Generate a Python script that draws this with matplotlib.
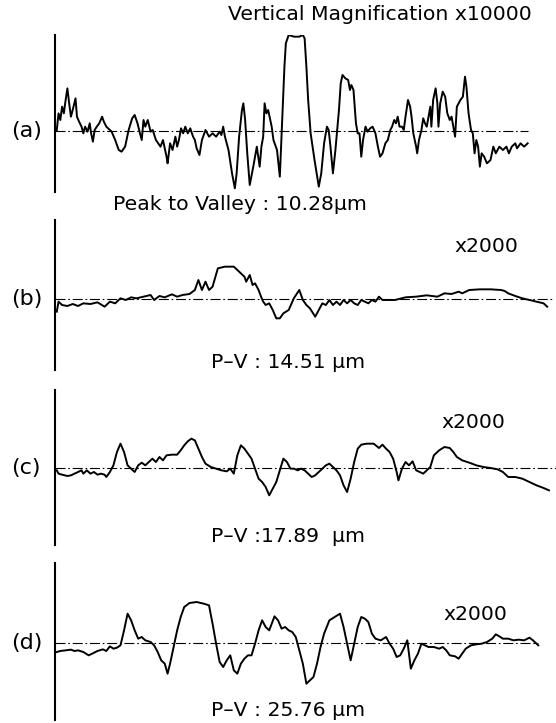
import matplotlib
matplotlib.use("Agg")
import matplotlib.pyplot as plt

plt.rcParams['font.family'] = ['DejaVu Sans']

# profile position (arbitrary units) and height above the mean line
a_x = [5, 10, 15, 20, 25, 30, 35, 40, 45, 50, 58, 62, 68, 75, 80, 85, 92, 98, 102, 107,
       112, 118, 125, 133, 138, 145, 155, 160, 170, 180, 188, 198, 208, 218, 225, 233, 240, 245, 250, 255,
       262, 270, 276, 285, 298, 305, 315, 318, 325, 332, 340, 345, 350, 356, 362, 368, 375, 382, 390, 395,
       400, 408, 415, 425, 435, 445, 455, 465, 470, 475, 480, 490, 500, 508, 513, 520, 528, 532, 537, 543,
       550, 560, 570, 578, 583, 588, 592, 597, 602, 608, 612, 617, 627, 635, 640, 648, 652, 660, 675, 690,
       700, 705, 710, 715, 722, 733, 745, 752, 760, 768, 773, 778, 785, 792, 798, 802, 807, 812, 820, 828,
       833, 837, 843, 850, 855, 860, 865, 870, 877, 883, 890, 897, 905, 912, 918, 925, 933, 940, 947, 952,
       958, 963, 968, 973, 980, 985, 990, 997, 1003, 1007, 1012, 1020, 1023, 1028, 1035, 1040, 1045, 1050, 1055, 1060,
       1063, 1068, 1075, 1080, 1083, 1088, 1095, 1102, 1108, 1115, 1120, 1125, 1130, 1135, 1145, 1152, 1158, 1162, 1168, 1175,
       1180, 1185, 1190, 1195, 1200, 1205, 1212, 1220, 1230, 1238, 1245, 1255, 1265, 1275, 1282, 1290, 1300, 1305, 1315, 1325,
       1335]
a_y = [3, 53, 33, 73, 53, 93, 128, 83, 43, 63, 98, 43, 28, 13, -7, 13, -2, 23, -7, -32,
       3, 13, 23, 43, 28, 13, 3, -2, -27, -57, -62, -47, 3, 38, 48, 23, -7, -27, 33, 13,
       33, -2, 3, -27, -47, -27, -77, -97, -37, -57, -17, -47, -27, 8, -7, 13, -7, 8, -17, -27,
       -52, -72, -27, 3, -17, -7, -17, -2, -12, 13, -17, -57, -127, -172, -127, -17, 63, 83, 33, -67,
       -162, -107, -47, -107, -47, -17, 83, 53, 63, 33, 13, -27, -57, -137, -7, 193, 263, 288, 283, 283,
       288, 278, 193, 93, -7, -87, -167, -127, -37, 13, 3, -47, -127, -57, 13, 63, 143, 168, 158, 153,
       123, 138, 123, 23, -7, -7, -77, -27, 13, -2, 8, 13, -7, -47, -77, -67, -37, -27, 3, 13,
       33, 23, 43, 13, 13, 3, 43, 93, 73, 43, -7, -47, -67, -27, 3, 38, 23, 13, 43, 73,
       13, 93, 128, 83, 13, 83, 118, 103, 53, 33, 43, 13, -17, 73, 93, 103, 163, 133, 53, 3,
       -7, -67, -27, -47, -107, -67, -77, -97, -87, -47, -67, -47, -57, -47, -67, -47, -37, -52, -37, -47,
       -37]

b_x = [5, 10, 20, 35, 50, 65, 80, 100, 120, 140, 155, 170, 185, 200, 215, 230, 250, 270, 280, 295,
       310, 330, 345, 360, 380, 395, 405, 415, 425, 435, 445, 460, 480, 505, 520, 535, 540, 550, 558, 565,
       575, 582, 588, 595, 605, 615, 625, 635, 645, 660, 675, 690, 700, 710, 720, 735, 745, 755, 765, 775,
       785, 795, 805, 815, 825, 835, 845, 855, 865, 875, 885, 895, 905, 915, 925, 940, 960, 990, 1020, 1050,
       1080, 1100, 1120, 1140, 1150, 1170, 1200, 1230, 1260, 1270, 1280, 1300, 1320, 1340, 1360, 1380, 1390]
b_y = [-38, -8, -18, -21, -15, -21, -13, -15, -10, -23, -8, -13, 2, -3, 5, 2, 7, 12, -3, 9,
       5, 14, 7, 12, 15, 27, 57, 27, 52, 27, 37, 92, 97, 97, 82, 67, 52, 72, 42, 47,
       27, 7, -8, -18, -13, -33, -58, -58, -43, -33, 3, 27, -3, -18, -28, -53, -33, -13, -18, -3,
       -18, -8, -18, -3, -13, -3, -13, -18, -3, -8, -13, -3, -8, 7, -3, -3, -3, 5, 7, 11,
       7, 17, 15, 22, 17, 27, 29, 29, 27, 24, 17, 9, 2, -3, -8, -13, -23]

c_x = [5, 10, 20, 35, 45, 55, 65, 75, 80, 90, 100, 110, 120, 130, 140, 145, 155, 165, 175, 185,
       195, 205, 215, 225, 235, 245, 255, 265, 275, 285, 295, 305, 315, 330, 345, 355, 365, 375, 385, 395,
       405, 415, 425, 440, 455, 470, 485, 495, 505, 515, 525, 535, 545, 555, 565, 575, 585, 595, 605, 615,
       625, 635, 645, 655, 665, 675, 685, 695, 705, 715, 725, 735, 745, 755, 765, 775, 785, 795, 805, 815,
       825, 835, 845, 855, 865, 880, 900, 915, 925, 935, 945, 955, 965, 970, 980, 990, 1000, 1010, 1020, 1030,
       1040, 1050, 1060, 1070, 1085, 1100, 1115, 1125, 1135, 1150, 1170, 1190, 1210, 1230, 1250, 1265, 1280, 1300, 1320, 1340,
       1360, 1380, 1395]
c_y = [-7, -17, -20, -24, -22, -17, -12, -7, -17, -7, -17, -12, -20, -17, -20, -27, -12, 8, 48, 73,
       48, 8, -2, -12, 8, 16, 8, 18, 28, 18, 33, 23, 38, 40, 40, 53, 68, 80, 88, 83,
       58, 33, 13, 3, -2, -7, -10, -2, -17, 38, 68, 58, 43, 28, -2, -32, -42, -57, -82, -62,
       -42, -7, 28, 18, -2, -2, -7, -2, -7, -17, -27, -22, -12, -2, 8, 13, 3, -7, -22, -52,
       -72, -32, 18, 58, 70, 73, 73, 60, 70, 58, 48, 28, -12, -37, -2, 18, 8, 20, -7, -12,
       -17, -7, 3, 38, 53, 63, 60, 48, 33, 23, 16, 8, 3, 0, -4, -12, -27, -27, -32, -42,
       -52, -60, -67]

d_x = [5, 15, 30, 45, 55, 65, 80, 95, 105, 120, 135, 145, 155, 165, 175, 185, 195, 205, 215, 225,
       235, 245, 255, 270, 280, 290, 300, 310, 318, 325, 335, 345, 355, 365, 380, 400, 420, 435, 445, 455,
       465, 475, 485, 495, 505, 515, 525, 535, 545, 555, 565, 575, 585, 595, 605, 620, 630, 640, 650, 660,
       670, 680, 690, 700, 710, 720, 730, 740, 750, 760, 775, 790, 805, 815, 825, 835, 845, 855, 865, 875,
       885, 895, 905, 920, 935, 945, 955, 965, 975, 985, 995, 1005, 1015, 1025, 1035, 1045, 1055, 1070, 1085, 1095,
       1105, 1115, 1130, 1140, 1150, 1160, 1175, 1190, 1205, 1220, 1235, 1245, 1255, 1265, 1280, 1295, 1310, 1325, 1340, 1350,
       1360, 1365]
d_y = [-27, -24, -22, -20, -24, -22, -27, -37, -32, -24, -19, -24, -10, -17, -14, -7, 38, 88, 68, 38,
       13, 18, 8, 3, -7, -27, -52, -62, -92, -62, -12, 38, 78, 108, 120, 123, 118, 113, 58, -2,
       -57, -72, -52, -37, -82, -92, -62, -47, -37, -37, -2, 38, 68, 48, 38, 80, 68, 43, 48, 38,
       33, 18, -22, -62, -122, -112, -102, -62, -12, 28, 68, 78, 88, 48, -2, -52, -2, 48, 78, 73,
       63, 28, 13, 8, 18, -2, -17, -42, -37, -17, 8, -77, -52, -32, -2, -7, -12, -12, -17, -12,
       -22, -37, -40, -47, -32, -17, -7, -4, -2, 3, 13, 26, 20, 13, 13, 8, 10, 8, 16, 8,
       -2, -7]

labels = ["(a)", "(b)", "(c)", "(d)"]
pv_texts = ["Peak to Valley : 10.28\u00b5m", "P\u2013V : 14.51 \u00b5m",
            "P\u2013V :17.89  \u00b5m", "P\u2013V : 25.76 \u00b5m"]
mag_texts = ["Vertical Magnification x10000", "x2000", "x2000", "x2000"]

W, H = 556, 723
fig = plt.figure(figsize=(W / 100, H / 100), dpi=100)

# pixel layout: axis top, axis bottom, mean line, dash-dot end (data units)
panels = [(35, 192, 131, 1337), (220, 370, 299, 1405), (390, 545, 468, 1415), (563, 720, 643, 1365)]
tops = [288, 237, 234, 240]
bots = [-183, -213, -231, -231]
series = [(a_x, a_y), (b_x, b_y), (c_x, c_y), (d_x, d_y)]
x0 = 55

for i, ((top, bot, base, dend), (xs, ys)) in enumerate(zip(panels, series)):
    ax = fig.add_axes([x0 / W, 1 - bot / H, (W - x0) / W, (bot - top) / H])
    ax.plot(xs, ys, color='black', lw=1.4)
    ax.plot([0, dend], [0, 0], color='black', lw=0.8, dashes=(9, 2.5, 1.5, 2.5))
    ax.set_xlim(0, 1415)
    ax.set_ylim(bots[i], tops[i])
    for s in ['top', 'right', 'bottom']:
        ax.spines[s].set_visible(False)
    ax.spines['left'].set_linewidth(1.5)
    ax.set_xticks([])
    ax.set_yticks([])
    ax.patch.set_alpha(0)
    fig.text(11 / W, 1 - base / H, labels[i], fontsize=16, ha='left', va='center')

fs = 14.7
fig.text(532 / W, 1 - 14 / H, mag_texts[0], fontsize=fs, ha='right', va='center')
fig.text(486 / W, 1 - 247 / H, mag_texts[1], fontsize=fs, ha='center', va='center')
fig.text(473 / W, 1 - 423 / H, mag_texts[2], fontsize=fs, ha='center', va='center')
fig.text(475 / W, 1 - 615 / H, mag_texts[3], fontsize=fs, ha='center', va='center')

fig.text(240 / W, 1 - 205 / H, pv_texts[0], fontsize=fs, ha='center', va='center')
fig.text(288 / W, 1 - 363 / H, pv_texts[1], fontsize=fs, ha='center', va='center')
fig.text(288 / W, 1 - 537 / H, pv_texts[2], fontsize=fs, ha='center', va='center')
fig.text(288 / W, 1 - 710 / H, pv_texts[3], fontsize=fs, ha='center', va='center')

fig.savefig("out.png", dpi=100)
